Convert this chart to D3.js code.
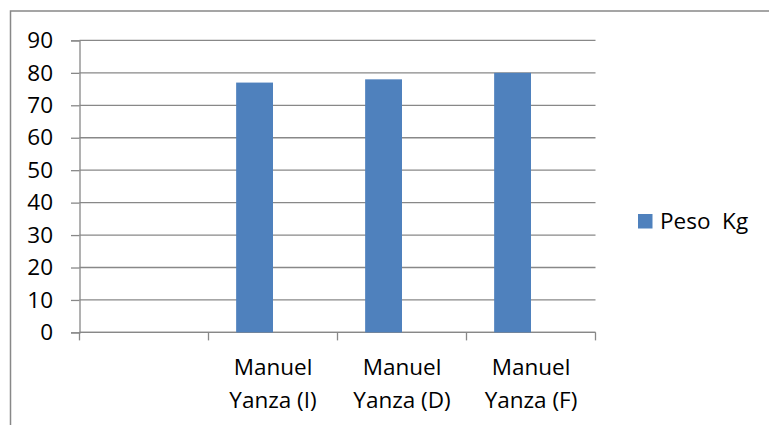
<!DOCTYPE html>
<html>
<head>
<meta charset="utf-8">
<script src="https://cdn.jsdelivr.net/npm/d3@7"></script>
<style>
  html, body { margin: 0; padding: 0; background: #fff; }
  svg { display: block; font-family: "Open Sans", Lato, sans-serif; }
</style>
</head>
<body>
<svg id="chart" width="769" height="425"></svg>
<script>
// Weight per measurement; the first slot of the axis is left empty
const categories = ["", "Manuel Yanza (I)", "Manuel Yanza (D)", "Manuel Yanza (F)"];
const labelLines = [[], ["Manuel", "Yanza (I)"], ["Manuel", "Yanza (D)"], ["Manuel", "Yanza (F)"]];
const pesoKg = [null, 77, 78, 80];
const seriesNames = ["Peso  Kg", ""];
const yTicks = [0, 10, 20, 30, 40, 50, 60, 70, 80, 90];

const svg = d3.select("#chart");
const gridColor = "#888888";
const barColor = "#4F81BD";
const fontSize = 22.5;

// Outer chart frame (continues beyond the visible area)
svg.append("rect")
  .attr("x", 10.5).attr("y", 11)
  .attr("width", 900).attr("height", 600)
  .attr("fill", "none").attr("stroke", gridColor).attr("stroke-width", 1.5);

const plot = { left: 79.5, right: 595.5, top: 40.4, bottom: 332.4 };

const x = d3.scaleBand().domain(categories).range([plot.left, plot.right]).padding(0);
const xSeries = d3.scaleBand().domain(seriesNames).range([0, x.bandwidth()])
  .paddingInner(0).paddingOuter(0.75);
const y = d3.scaleLinear().domain([0, 90]).range([plot.bottom, plot.top]);

// Horizontal gridlines
svg.append("g").selectAll("line").data(yTicks).join("line")
  .attr("x1", plot.left).attr("x2", plot.right)
  .attr("y1", d => y(d)).attr("y2", d => y(d))
  .attr("stroke", gridColor).attr("stroke-width", 1.3);

// Y axis
const yAxis = svg.append("g")
  .attr("transform", `translate(${plot.left},0)`)
  .call(d3.axisLeft(y).tickValues(yTicks).tickSize(8.5).tickPadding(18));
yAxis.select(".domain").attr("stroke", gridColor).attr("stroke-width", 1.3);
yAxis.selectAll(".tick line").attr("stroke", gridColor).attr("stroke-width", 1.3);
yAxis.selectAll(".tick text")
  .attr("font-size", fontSize).attr("fill", "#000").attr("font-family", "'Open Sans', sans-serif");

// X axis: baseline plus tick marks at category boundaries
svg.append("line")
  .attr("x1", plot.left).attr("x2", plot.right)
  .attr("y1", plot.bottom).attr("y2", plot.bottom)
  .attr("stroke", gridColor).attr("stroke-width", 1.3);
const boundaries = categories.map(c => x(c)).concat([x(categories[categories.length - 1]) + x.bandwidth()]);
svg.append("g").selectAll("line").data(boundaries).join("line")
  .attr("x1", d => d).attr("x2", d => d)
  .attr("y1", plot.bottom).attr("y2", plot.bottom + 8)
  .attr("stroke", gridColor).attr("stroke-width", 1.3);

// Bars
svg.append("g").selectAll("rect")
  .data(categories.map((c, i) => ({ c, v: pesoKg[i] })).filter(d => d.v != null))
  .join("rect")
  .attr("x", d => x(d.c) + xSeries(seriesNames[0]))
  .attr("width", xSeries.bandwidth())
  .attr("y", d => y(d.v))
  .attr("height", d => y(0) - y(d.v))
  .attr("fill", barColor);

// Category labels on two lines
const labels = svg.append("g").selectAll("text")
  .data(categories.map((c, i) => ({ c, lines: labelLines[i] })))
  .join("text")
  .attr("text-anchor", "middle")
  .attr("font-size", fontSize).attr("fill", "#000");
labels.each(function(d) {
  d3.select(this).selectAll("tspan").data(d.lines).join("tspan")
    .attr("x", x(d.c) + x.bandwidth() / 2)
    .attr("y", (t, j) => 375 + j * 33)
    .text(t => t);
});

// Legend
const legend = svg.append("g");
legend.append("rect")
  .attr("x", 638).attr("y", 214).attr("width", 14.5).attr("height", 14.5)
  .attr("fill", barColor);
legend.append("text")
  .attr("x", 660).attr("y", 229)
  .attr("font-size", fontSize).attr("fill", "#000")
  .style("white-space", "pre")
  .text(seriesNames[0]);
</script>
</body>
</html>
